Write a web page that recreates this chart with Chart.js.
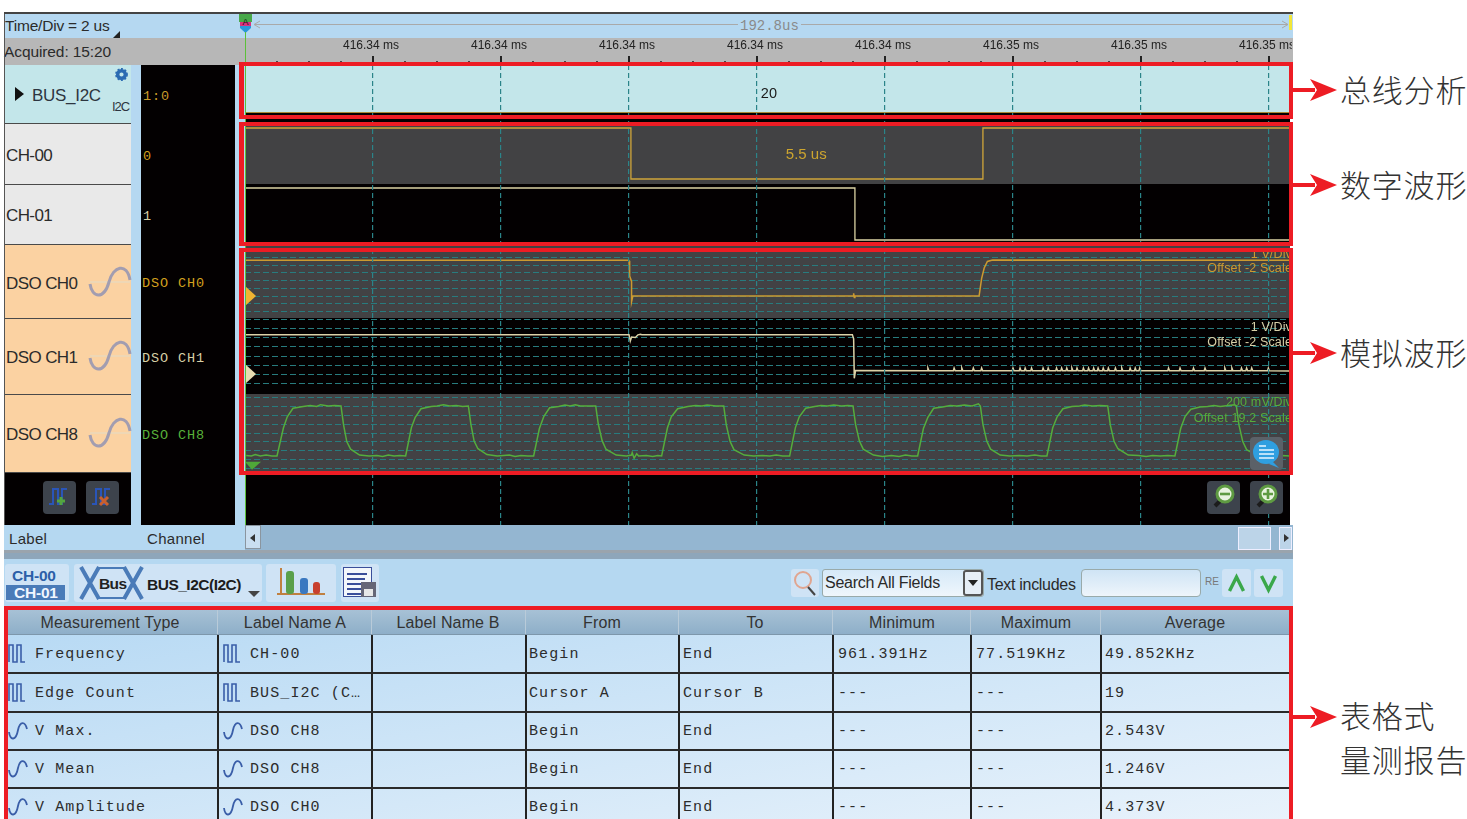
<!DOCTYPE html>
<html lang="zh">
<head>
<meta charset="utf-8">
<title>I2C waveform and measurement report</title>
<script src="https://cdn.jsdelivr.net/npm/chart.js@4"></script>
<style>
html,body{margin:0;padding:0;background:#fff;width:1467px;height:819px;overflow:hidden}
#stage{position:relative;width:1467px;height:819px;overflow:hidden;font-family:"Liberation Sans",sans-serif;color:#2b2b2b}
.b{position:absolute;box-sizing:border-box}
.t{position:absolute;white-space:nowrap;transform:translateY(-50%);line-height:1}
.mono{font-family:"Liberation Mono",monospace}
svg{position:absolute;overflow:visible}
canvas{position:absolute;left:245px;top:38px}
</style>
</head>
<body>
<div id="stage"><canvas id="scope" width="1047" height="487"></canvas></div>
<script>
// ---------- chart data (time in microseconds from the left edge of the view) ----------
const majorTickLabels = ['416.34','416.34','416.34','416.34','416.34','416.35','416.35','416.35'];
const busPacket = [[0,1],[16.33,1]];
const busBaseline = [[0,0],[16.33,0]];
const busEdge = [[.03,1],[.03,.7],[.03,null],[.03,.28],[.03,0]];
const busValueLabel = {text:'20', t:8.06, v:0.40};
const ch00Samples = [[0,1],[6.03,1],[6.03,0],[11.53,0],[11.53,1],[16.33,1]];
const ch00WidthLabel = {text:'5.5 us', t:8.77, v:0.47};
const ch01Samples = [[0,1],[9.53,1],[9.53,0],[16.33,0]];
const dso0Samples = [[0,4.65],[5.98,4.65],[6.0,4.6],[6.01,2.6],[6.04,1.9],[6.04,-0.75],[6.06,0],[9.5,0],[9.51,0.35],[9.52,-0.2],[9.53,0],[11.47,0],[11.51,2.3],[11.55,3.65],[11.6,4.5],[11.68,4.7],[16.33,4.65]];
const dso1Lead = [[0,4.37],[6.0,4.37],[6.02,3.67],[6.04,4.1],[6.1,4.05],[6.14,4.35],[6.18,4.42],[6.2,4.37],[9.49,4.37],[9.51,3.9],[9.52,-0.48],[9.54,0.4]];
const dso1PulseTimes = [10.67,11.08,11.2,11.38,11.51,12.0,12.11,12.19,12.29,12.47,12.55,12.68,12.76,12.84,12.92,13.0,13.1,13.18,13.26,13.33,13.41,13.49,13.6,13.7,13.83,13.91,13.98,14.43,14.61,14.82,15.0,15.31,15.42,15.57,15.65,15.73,15.99];
const dso1LowLevel = 0.36, dso1PulseLevel = 0.66;
const dso8Samples = [
[0.02,.10],[.1,.09],[.16,.12],[.24,.09],[.33,.11],[.42,.09],[.5,.09],[.6,.71],[.66,.96],[.75,1.15],[.91,1.19],[1.02,1.21],[1.12,1.19],[1.18,1.23],[1.3,1.2],[1.4,1.21],[1.5,1.2],[1.54,.78],[1.59,.41],[1.65,.24],[1.79,.11],[1.94,.09],
[2.06,.10],[2.15,.08],[2.24,.11],[2.33,.09],[2.42,.10],[2.51,.09],[2.6,.72],[2.66,.95],[2.75,1.14],[2.91,1.19],[3.0,1.2],[3.1,1.23],[3.2,1.2],[3.3,1.21],[3.4,1.19],[3.49,1.2],[3.53,.79],[3.58,.42],[3.64,.25],[3.78,.12],[3.94,.09],
[4.04,.1],[4.13,.11],[4.22,.08],[4.31,.1],[4.42,.09],[4.51,.09],[4.6,.7],[4.67,.97],[4.76,1.16],[4.9,1.19],[5.0,1.22],[5.08,1.2],[5.16,1.23],[5.24,1.2],[5.36,1.2],[5.48,1.2],[5.52,.8],[5.58,.43],[5.64,.24],[5.8,.11],[5.96,.09],
[6.04,.11],[6.05,.16],[6.08,.04],[6.12,.14],[6.15,.09],[6.27,.1],[6.37,.08],[6.45,.1],[6.51,.09],[6.6,.71],[6.66,.96],[6.76,1.14],[6.92,1.19],[7.04,1.21],[7.14,1.2],[7.22,1.22],[7.36,1.2],[7.48,1.2],[7.52,.78],[7.58,.41],[7.64,.23],[7.8,.11],[7.95,.09],
[8.08,.1],[8.2,.09],[8.3,.11],[8.4,.09],[8.51,.09],[8.6,.72],[8.66,.96],[8.76,1.15],[8.9,1.19],[9.0,1.21],[9.1,1.2],[9.2,1.22],[9.32,1.2],[9.42,1.21],[9.5,1.2],[9.54,.79],[9.6,.42],[9.66,.24],[9.82,.11],[9.96,.08],
[10.1,.1],[10.22,.08],[10.32,.11],[10.42,.09],[10.51,.09],[10.6,.7],[10.67,.95],[10.76,1.15],[10.9,1.18],[11.02,1.21],[11.12,1.2],[11.24,1.22],[11.36,1.2],[11.46,1.25],[11.49,1.2],[11.53,.79],[11.59,.42],[11.65,.24],[11.8,.11],[11.95,.09],
[12.1,.1],[12.22,.09],[12.34,.11],[12.44,.09],[12.53,.09],[12.62,.71],[12.69,.96],[12.78,1.14],[12.92,1.19],[13.04,1.2],[13.12,1.22],[13.24,1.2],[13.36,1.21],[13.48,1.2],[13.52,.78],[13.58,.41],[13.64,.25],[13.8,.11],[13.96,.1],
[14.08,.08],[14.18,.1],[14.3,.09],[14.42,.1],[14.53,.09],[14.62,.7],[14.69,.97],[14.78,1.13],[14.92,1.18],[15.04,1.19],[15.14,1.21],[15.24,1.19],[15.36,1.21],[15.46,1.23],[15.49,1.2],[15.53,.78],[15.59,.41],[15.65,.23],[15.8,.11],[16.0,.09],[16.2,.1],[16.33,.09]
];
const laneHeights = {empty:53, dso8:78, dso1:76, dso0:74, ch01:60, ch00:61, bus:58};
const laneRanges = {
  bus:[-0.239,1.022], ch00:[-0.098,1.098], ch01:[-0.077,1.077],
  dso0:[-2.868,6.78], dso1:[-2.222,6.222], dso8:[-0.267,1.467], empty:[0,1]
};
const laneFills = {bus:'#030001', ch00:'#424244', ch01:'#030001', dso0:'#424244', dso1:'#030001', dso8:'#424244', empty:'#030001'};
const viewEnd = 16.328;
const offsetMarkers = [{axis:'dso0',v:0,color:'#f0b432'},{axis:'dso1',v:0,color:'#e6dcb2'}];

// ---------- table data ----------
const tableHeaders = ['Measurement Type','Label Name A','Label Name B','From','To','Minimum','Maximum','Average'];
const tableTypes = ['Frequency','Edge Count','V Max.','V Mean','V Amplitude'];
const tableLabelA = ['CH-00','BUS_I2C (C\u2026','DSO CH8','DSO CH8','DSO CH0'];
const tableFrom = ['Begin','Cursor A','Begin','Begin','Begin'];
const tableTo = ['End','Cursor B','End','End','End'];
const tableMin = ['961.391Hz','---','---','---','---'];
const tableMax = ['77.519KHz','---','---','---','---'];
const tableAvg = ['49.852KHz','19','2.543V','1.246V','4.373V'];

// ---------- page furniture ----------
const stage = document.getElementById('stage');
const canvas = document.getElementById('scope');
function B(x,y,w,h,css){const d=document.createElement('div');d.className='b';d.style.cssText=`left:${x}px;top:${y}px;width:${w}px;height:${h}px;`+(css||'');stage.appendChild(d);return d;}
function T(x,y,s,css,cls){const d=document.createElement('div');d.className='t '+(cls||'');d.style.cssText=`left:${x}px;top:${y}px;`+(css||'');d.textContent=s;stage.appendChild(d);return d;}
function S(x,y,w,h,inner){const n='http://www.w3.org/2000/svg';const s=document.createElementNS(n,'svg');s.setAttribute('width',w);s.setAttribute('height',h);s.setAttribute('viewBox',`0 0 ${w} ${h}`);s.style.left=x+'px';s.style.top=y+'px';s.innerHTML=inner;stage.appendChild(s);return s;}
const BLUE='#b5d8f1';

// frame and header
B(4,12,1289,2,'background:#444');
B(4,14,1289,24,'background:'+BLUE);
B(4,38,1289,27,'background:#b7b7b7;');
T(5,26,'Time/Div = 2 us','font-size:15.5px;letter-spacing:-.2px;');
S(113,31,7,7,'<path d="M0 7H7V0Z" fill="#222"/>');
T(4,52,'Acquired: 15:20','font-size:15.5px;letter-spacing:-.1px;');
B(254,24,1034,1,'background:#a9a9a9');
S(254,21,6,7,'<path d="M6 0L0 3.5L6 7" fill="none" stroke="#a9a9a9"/>');
S(1282,21,6,7,'<path d="M0 0L6 3.5L0 7" fill="none" stroke="#a9a9a9"/>');
T(738,26,'192.8us','font-size:14px;color:#8a8a8a;background:'+BLUE+';padding:0 2px;',"mono");
S(239,14,14,21,'<rect x="0" y="0" width="13" height="8" fill="#49a84a"/><path d="M1 8H12V14L6.5 19L1 14Z" fill="#2a97d9"/><rect x="1" y="8" width="11" height="4" fill="#d9327f"/><text x="6.5" y="11" font-size="9" text-anchor="middle" fill="#111" font-family="Liberation Sans">A</text>');
B(1289,15,3,15,'background:#f2e63a');

// left panels
B(4,14,1,511,'background:#555');
B(5,65,126,58,'background:#c3e6ea');
B(5,124,126,60,'background:#e9e9e9');
B(5,185,126,59,'background:#e9e9e9');
B(5,245,126,73,'background:#fbd2a2');
B(5,319,126,75,'background:#fbd2a2');
B(5,395,126,77,'background:#fbd2a2');
B(5,473,126,52,'background:#030001');
[123,184,244,318,394,472].forEach(y=>B(5,y,126,1,'background:#4a4a4a'));
B(131,65,10,460,'background:'+BLUE);
B(141,65,94,460,'background:#030001');
B(235,65,10,460,'background:'+BLUE);
S(15,87,9,14,'<path d="M0 0L9 7L0 14Z" fill="#111"/>');
T(32,95,'BUS_I2C','font-size:17px;letter-spacing:-.3px;color:#2d3540;');
T(112,106,'I2C','font-size:13px;letter-spacing:-1px;color:#2d3540;');
S(115,68,13,13,'<circle cx="6.5" cy="6.5" r="3.8" fill="none" stroke="#2a6ab2" stroke-width="3.4"/><circle cx="6.5" cy="6.5" r="5.6" fill="none" stroke="#2a6ab2" stroke-width="1.6" stroke-dasharray="2 1.6"/>');
T(6,155,'CH-00','font-size:17px;letter-spacing:-.6px;');
T(6,215,'CH-01','font-size:17px;letter-spacing:-.6px;');
[['DSO CH0',283],['DSO CH1',357],['DSO CH8',434]].forEach(([s,y])=>{
  T(6,y,s,'font-size:17px;letter-spacing:-.6px;');
  S(88,y-19,44,38,'<path d="M2 18H42" stroke="#e2dcc8" stroke-width="1"/><path d="M2 20C4 34 16 36 21 18C25 2 39 -2 42 16" fill="none" stroke="#a29db0" stroke-width="3"/>');
});
const cm='font-size:13.5px;letter-spacing:.9px;';
T(143,97,'1:0',cm+'color:#c99a2a;','mono');
T(143,157,'0',cm+'color:#d4a11e;','mono');
T(143,217,'1',cm+'color:#d7cfa6;','mono');
T(142,284,'DSO CH0',cm+'color:#d4a11e;','mono');
T(142,359,'DSO CH1',cm+'color:#d7cfa6;','mono');
T(142,436,'DSO CH8',cm+'color:#58b03a;','mono');
// add / remove buttons
[[43,'#53a63e','M14 20H22M18 16V24'],[86,'#c9602e','M14 16L22 24M22 16L14 24']].forEach(([x,c,p])=>{
  B(x,481,33,33,'background:#3d434c;border-radius:4px;');
  S(x,481,33,33,`<path d="M6 23H10V8H15V23H19V8H24" fill="none" stroke="#2a55b8" stroke-width="2"/><path d="${p}" stroke="${c}" stroke-width="3"/>`);
});
// bottom bar
B(4,525,241,27,'background:'+BLUE);
B(245,525,1048,27,'background:#94b6d1');
B(4,550,1289,3,'background:#9aa4ad');
T(9,538,'Label','font-size:15px;letter-spacing:.3px;');
T(147,538,'Channel','font-size:15px;letter-spacing:.3px;');
B(245,525,16,24,'background:#c9def0;border:1px solid #8a959f;');
S(250,534,5,8,'<path d="M5 0V8L0 4Z" fill="#333"/>');
B(1238,527,33,23,'background:#bcd4e8;border:1px solid #eef;');
B(1279,527,13,23,'background:#bcd4e8;border:1px solid #eef;');
S(1284,534,5,8,'<path d="M0 0V8L5 4Z" fill="#333"/>');
// toolbar
B(4,553,1289,53,'background:'+BLUE);
B(4,553,1289,6,'background:#8ea6ba');
B(5,564,64,38,'background:#cfe3f5;border-radius:3px;');
T(12,576,'CH-00','font-size:15.5px;font-weight:bold;letter-spacing:-.2px;color:#2c5fa8;');
B(6,585,59,15,'background:#4a7bb8;');
T(14,593,'CH-01','font-size:15.5px;font-weight:bold;letter-spacing:-.2px;color:#f0f6ff;');
B(74,564,188,38,'background:#cfe3f5;border-radius:3px;');
S(80,566,62,34,'<path d="M19 2H44M19 32H44" stroke="#4a7bb8" stroke-width="2"/><path d="M1 1L19 33M1 33L19 1M44 1L62 33M44 33L62 1" fill="none" stroke="#4a7bb8" stroke-width="4"/>');
T(99,584,'Bus','font-size:15.5px;font-weight:bold;letter-spacing:-.6px;color:#222;');
T(147,585,'BUS_I2C(I2C)','font-size:15.5px;font-weight:bold;letter-spacing:-.5px;color:#1c1c1c;');
S(248,591,12,6,'<path d="M0 0H12L6 6Z" fill="#444"/>');
B(266,564,70,38,'background:#cfe3f5;border-radius:3px;');
S(276,567,50,32,'<path d="M1 27H49" stroke="#c08040" stroke-width="2"/><path d="M5 1V27" stroke="#c08040" stroke-width="2"/><rect x="10" y="4" width="8" height="23" rx="3" fill="#5aa04a"/><rect x="24" y="11" width="8" height="16" rx="3" fill="#3a78c0"/><rect x="37" y="15" width="7" height="12" rx="3" fill="#c8402e"/>');
B(341,564,38,38,'background:#cfe3f5;border-radius:3px;');
S(343,567,34,31,'<rect x="0.5" y="0.5" width="28" height="29" fill="#f4f7fb" stroke="#3a4e9a"/><path d="M4 7H24M4 12H22M4 17H20M4 22H20M4 27H20" stroke="#3a4e9a" stroke-width="2"/><rect x="18" y="15" width="15" height="15" fill="#667" /><rect x="21" y="22" width="9" height="7" fill="#e8e8e8"/>');
B(791,569,28,28,'background:#cfe3f5;border-radius:3px;');
S(793,570,24,26,'<circle cx="10" cy="10" r="8" fill="none" stroke="#e0a590" stroke-width="2"/><path d="M15 17L22 25" stroke="#444" stroke-width="2"/>');
B(822,569,162,28,'background:linear-gradient(#d6e9f8,#eff6fc);border:1px solid #9aa;border-radius:3px;');
T(825,583,'Search All Fields','font-size:16px;letter-spacing:-.25px;color:#2a2a2a;');
B(963,570,20,26,'background:#e6eef6;border:2px solid #555;border-radius:3px;');
S(968,580,10,6,'<path d="M0 0H10L5 6Z" fill="#222"/>');
T(987,585,'Text includes','font-size:16px;letter-spacing:-.3px;color:#2a2a2a;');
B(1081,569,120,28,'background:linear-gradient(#cfe4f5,#eef5fb);border:1px solid #9aa;border-radius:4px;');
T(1205,582,'RE','font-size:10px;color:#777;');
B(1222,569,29,28,'background:#cfe3f5;border-radius:3px;');
B(1254,569,29,28,'background:#cfe3f5;border-radius:3px;');
S(1228,575,17,17,'<path d="M1.5 16L8.5 2L15.5 16" fill="none" stroke="#3aa84a" stroke-width="3.4"/>');
S(1260,575,17,17,'<path d="M1.5 1L8.5 15L15.5 1" fill="none" stroke="#3aa84a" stroke-width="3.4"/>');

// measurement table
B(7,609,1283,26,'background:linear-gradient(#a8c2d6,#8daec8);');
B(7,635,1283,184,'background:linear-gradient(170deg,#b8daf4,#e8f2fb);');
const colLines=[217,371,525,678,832,970,1100];
const headerCentres=[110,295,448,602,755,902,1036,1195];
colLines.forEach(x=>{B(x,609,1,26,'background:#b9cbd9');B(x,635,1.5,184,'background:#222');});
[672,711,749,787].forEach(y=>B(7,y,1283,1.5,'background:#2a2a2a'));
B(7,634,1283,1,'background:#7d97ab');
tableHeaders.forEach((h,i)=>{T(headerCentres[i],623,h,'font-size:16px;letter-spacing:.15px;color:#333;transform:translate(-50%,-50%);');});
const rowY=[653,692,730,768,806];
const pulseIcon='<path d="M1 19V2H5V19H9V2H13V19H17" fill="none" stroke="#3a5ea8" stroke-width="1.6"/>';
const waveIcon='<path d="M1 12C2 21 8 21 10 10C12 1 17 1 19 9" fill="none" stroke="#3a5ea8" stroke-width="1.8"/>';
const mt='font-size:15px;letter-spacing:1.1px;color:#2c2c2c;';
[[35,tableTypes],[250,tableLabelA],[529,tableFrom],[683,tableTo],[838,tableMin],[976,tableMax],[1105,tableAvg]].forEach(([x,col])=>{
  col.forEach((s,i)=>T(x,rowY[i]+.5,s,mt,'mono'));
});
rowY.forEach((y,i)=>{
  const ic=i<2?pulseIcon:waveIcon;
  S(8,y-10,20,22,ic);
  S(223,y-10,20,22,ic);
});

// ---------- Chart.js ----------
stage.appendChild(canvas);
const points = arr => arr.map(p=>({x:p[0],y:p[1]}));
const dso1Samples = dso1Lead.slice();
dso1PulseTimes.forEach(t=>{dso1Samples.push([t-.012,dso1LowLevel],[t,dso1PulseLevel],[t+.016,dso1LowLevel]);});
dso1Samples.push([16.33,dso1LowLevel-.03]);

const lanesPlugin = {
  id:'lanes',
  beforeDraw(chart){
    const {ctx,chartArea:a,scales}=chart;
    ctx.save();
    Object.keys(laneFills).forEach(k=>{
      const s=scales[k];
      ctx.fillStyle=laneFills[k];
      ctx.fillRect(a.left,s.top,a.right-a.left,s.bottom-s.top);
    });
    ctx.restore();
  },
  afterDraw(chart){
    const {ctx,scales}=chart;
    const x=scales.x, top=x.bottom;
    ctx.save();
    ctx.strokeStyle='#222';
    x.ticks.forEach(t=>{
      if(t.value<=0)return;
      const major=t.value%2===0, px=x.getPixelForValue(t.value);
      ctx.lineWidth=major?2:1.5;
      ctx.beginPath();ctx.moveTo(px,top-(major?9:4));ctx.lineTo(px,top);ctx.stroke();
    });
    // value annotations inside the lanes
    ctx.textBaseline='middle';ctx.font='14.5px "Liberation Sans"';
    ctx.fillStyle='#1a1a1a';ctx.textAlign='left';
    ctx.fillText(busValueLabel.text,x.getPixelForValue(busValueLabel.t),scales.bus.getPixelForValue(busValueLabel.v));
    ctx.font='15px "Liberation Sans"';
    ctx.fillStyle='#cda52f';ctx.textAlign='center';
    ctx.fillText(ch00WidthLabel.text,x.getPixelForValue(ch00WidthLabel.t),scales.ch00.getPixelForValue(ch00WidthLabel.v));
    // channel offset markers
    offsetMarkers.forEach(m=>{
      const y=scales[m.axis].getPixelForValue(m.v), l=x.left;
      ctx.fillStyle=m.color;ctx.beginPath();ctx.moveTo(l,y-10);ctx.lineTo(l+11,y);ctx.lineTo(l,y+10);ctx.closePath();ctx.fill();
    });
    const gy=scales.dso8.getPixelForValue(-0.04);
    ctx.fillStyle='#4fa838';ctx.beginPath();ctx.moveTo(x.left,gy);ctx.lineTo(x.left+16,gy);ctx.lineTo(x.left+7,gy+8);ctx.closePath();ctx.fill();
    ctx.restore();
  }
};

function laneAxis(key,step,hide){
  const g = step ? {
    color:c=>(hide!==undefined&&c.tick&&Math.abs(c.tick.value-hide)<1e-6)?'rgba(0,0,0,0)':'#287b7e',
    lineWidth:1,drawTicks:false
  } : {display:false,drawTicks:false};
  const o = {type:'linear',position:'left',stack:'lanes',stackWeight:laneHeights[key],
    min:laneRanges[key][0],max:laneRanges[key][1],
    border:{display:false,dash:[6,3]},grid:g,
    ticks:{display:false,includeBounds:false,stepSize:step||1},
    afterFit(s){s.width=0;}};
  return o;
}
function trace(data,axis,color,width,extra){
  return Object.assign({data:points(data),yAxisID:axis,xAxisID:'x',borderColor:color,borderWidth:width,pointRadius:0,tension:0,fill:false},extra||{});
}

new Chart(canvas,{
  type:'line',
  data:{datasets:[
    trace(busPacket,'bus','#c3e6ea',1,{fill:{value:0},backgroundColor:'#c3e6ea',label:'BUS_I2C'}),
    trace(busBaseline,'bus','#e0b84a',1.5,{label:'BUS_I2C baseline'}),
    trace(busEdge,'bus','#e0b84a',1.5,{label:'BUS_I2C edge',spanGaps:false}),
    trace(ch00Samples,'ch00','#cfa53a',1.3,{label:'CH-00'}),
    trace(ch01Samples,'ch01','#dcd2a4',1.3,{label:'CH-01'}),
    trace(dso0Samples,'dso0','#cc9a30',1.5,{label:'DSO CH0'}),
    trace(dso1Samples,'dso1','#dcd2a8',1.5,{label:'DSO CH1'}),
    trace(dso8Samples,'dso8','#55ad3c',1.5,{label:'DSO CH8'})
  ]},
  options:{
    responsive:false,animation:false,devicePixelRatio:1,
    layout:{padding:{left:0,right:2,top:0,bottom:0}},
    plugins:{legend:{display:false},tooltip:{enabled:false}},
    scales:{
      x:{type:'linear',position:'top',min:0,max:viewEnd,
        border:{display:false,dash:[5,3]},
        grid:{z:1,drawTicks:false,lineWidth:1.2,
          color:c=>(c.tick&&c.tick.value>0&&c.tick.value%2===0)?'#2b8489':'rgba(0,0,0,0)'},
        ticks:{stepSize:.5,includeBounds:false,autoSkip:false,maxRotation:0,padding:12,labelOffset:-2,color:'#222',
          font:{family:'Liberation Sans',size:12},
          callback:v=>(v>0&&v%2===0)?majorTickLabels[v/2-1]+' ms':''},
        afterFit(s){s.height=27;s.paddingRight=0;s.paddingLeft=0;}
      },
      empty:laneAxis('empty'),
      dso8:laneAxis('dso8',.2),
      dso1:laneAxis('dso1',1,-2),
      dso0:laneAxis('dso0',1),
      ch01:laneAxis('ch01'),
      ch00:laneAxis('ch00'),
      bus:laneAxis('bus')
    }
  },
  plugins:[lanesPlugin]
});

// ---------- overlays above the chart ----------
B(245,32,1,493,'background:#5cc03a');
function clipText(right,y,s,color){
  const w=B(1100,y-8,right-1100,16,'overflow:hidden;');
  const d=document.createElement('div');
  d.style.cssText=`position:absolute;right:-3px;top:0;white-space:nowrap;font-size:12.5px;line-height:16px;letter-spacing:.15px;color:${color};`;
  d.textContent=s;w.appendChild(d);
}
clipText(1289,254,'1 V/Div','#cc9a30');
clipText(1289,268,'Offset -2 Scale','#cc9a30');
clipText(1289,327,'1 V/Div','#d8cfa8');
clipText(1289,342,'Offset -2 Scale','#d8cfa8');
clipText(1289,402,'200 mV/Div','#55ad3c');
clipText(1289,418,'Offset 19.2 Scale','#55ad3c');
// view buttons
B(1250,437,33,33,'background:#5b6168;border-radius:4px;');
S(1252,439,30,30,'<ellipse cx="14" cy="13" rx="13" ry="12" fill="#2f9fe0"/><path d="M7 7H14M7 11H22M7 15H22M7 19H22" stroke="#e8f6ff" stroke-width="1.6"/><path d="M20 22L27 29L17 25Z" fill="#2f9fe0"/>');
[1207,1250].forEach((x,i)=>{
  B(x,481,33,33,'background:#3d434c;border-radius:4px;');
  S(x,481,33,33,`<path d="M8 25L15 18" stroke="#1c1c1c" stroke-width="4"/><circle cx="18" cy="13" r="8" fill="#e8f2df" stroke="#5e9a42" stroke-width="3"/><path d="${i?'M13 13H23M18 8V18':'M13 13H23'}" stroke="#5e9a42" stroke-width="2.6"/>`);
});
// red call-out frames
const red='#ed1c24';
B(239,62,1054,57,`border:4px solid ${red};border-left-width:5px;`);
B(239,122,1054,124,`border:4px solid ${red};border-left-width:5px;`);
B(239,248,1054,227,`border:4px solid ${red};border-left-width:5px;`);
B(4,606,1289,213,`border:4px solid ${red};border-bottom:none;`);
const cjk="font-family:'Noto Sans CJK SC';font-weight:300;font-size:31px;letter-spacing:.8px;color:#333;";
[[90,'总线分析',2],[185,'数字波形',2],[353,'模拟波形',2],[717,'表格式',3]].forEach(([y,s,d])=>{
  B(1293,y-2,22,4,`background:${red};`);
  S(1310,y-11,27,22,`<path d="M0 0L27 11L0 22L7 11Z" fill="${red}"/>`);
  T(1340,y-d,s,cjk);
});
T(1340,761-3,'量测报告',cjk);
</script>
</body>
</html>
